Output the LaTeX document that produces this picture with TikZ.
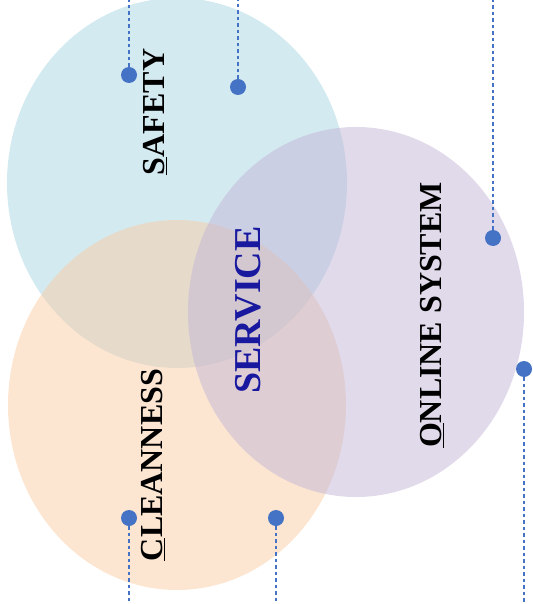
\documentclass[tikz,border=0pt]{standalone}
\usepackage{fontspec}
\setmainfont{Liberation Serif}
\definecolor{cblue}{RGB}{168,213,226}
\definecolor{cpeach}{RGB}{250,205,165}
\definecolor{clav}{RGB}{195,181,215}
\definecolor{dotc}{RGB}{68,114,196}
\definecolor{navy}{RGB}{25,25,160}
\tikzset{
  bubble/.style={fill opacity=0.5, draw=none},
  dotn/.style={circle, fill=dotc, inner sep=0pt, minimum size=16pt},
  leader/.style={draw=dotc, line width=1.1pt, dash pattern=on 3.5pt off 3pt},
  lbl/.style={rotate=90, font=\bfseries\fontsize{32}{36}\selectfont, inner sep=0pt},
}
\begin{document}
\begin{tikzpicture}[x=1pt,y=-1pt]
\useasboundingbox (0,0) rectangle (532,604);
\clip (0,0) rectangle (532,604);
\fill[bubble, cblue] (177,183) ellipse [x radius=170pt, y radius=185pt];
\fill[bubble, cpeach] (177,405) ellipse [x radius=169pt, y radius=185pt];
\fill[bubble, clav] (356,312) ellipse [x radius=168pt, y radius=185pt];
\node[lbl] (safety) at (155,112) {\underline{S}AFETY};
\node[lbl] (online) at (432,315) {\underline{O}NLINE SYSTEM};
\node[lbl] (clean) at (153,465) {\underline{C}LEANNESS};
\node[lbl, text=navy, font=\bfseries\fontsize{38}{42}\selectfont] (service) at (248,310) {SERVICE};
\coordinate (e1) at (129,0);
\coordinate (e2) at (238,0);
\coordinate (e3) at (493,0);
\coordinate (e4) at (524,604);
\coordinate (e5) at (129,604);
\coordinate (e6) at (276,604);
\node[dotn] (d1) at (129,75) {};
\node[dotn] (d2) at (238,87) {};
\node[dotn] (d3) at (493,238) {};
\node[dotn] (d4) at (524,369) {};
\node[dotn] (d5) at (129,518) {};
\node[dotn] (d6) at (276,518) {};
\draw[leader] (d1) -- (e1);
\draw[leader] (d2) -- (e2);
\draw[leader] (d3) -- (e3);
\draw[leader] (d4) -- (e4);
\draw[leader] (d5) -- (e5);
\draw[leader] (d6) -- (e6);
\end{tikzpicture}
\end{document}
